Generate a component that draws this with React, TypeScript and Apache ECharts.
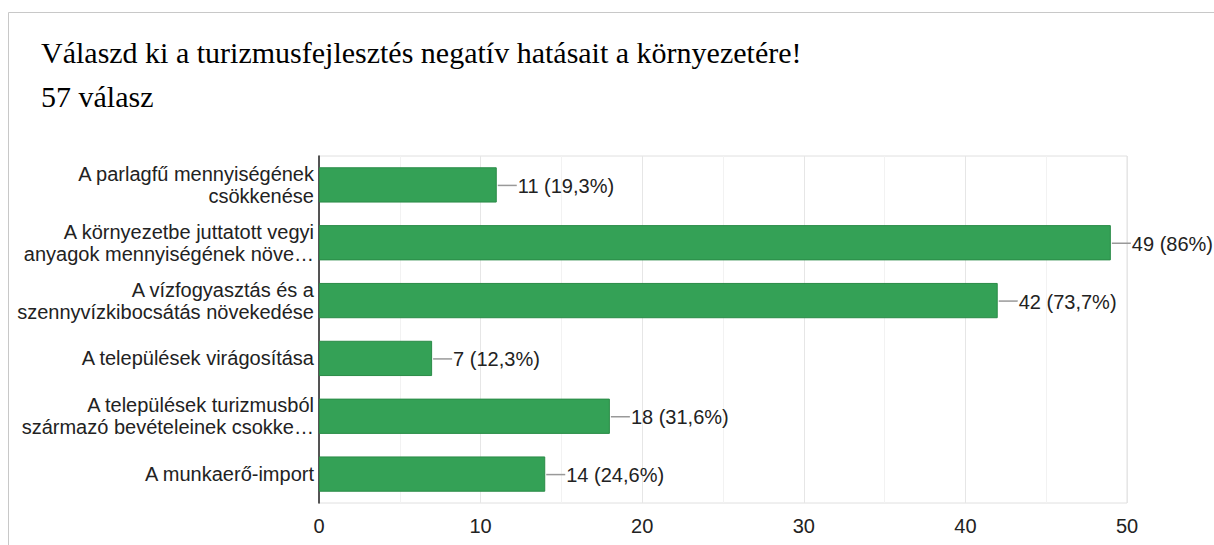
import React, { useEffect, useRef } from "react";
import * as echarts from "echarts";

const titleText = "Válaszd ki a turizmusfejlesztés negatív hatásait a környezetére!";
const subtitleText = "57 válasz";
const categories = [
  "A parlagfű mennyiségének\ncsökkenése",
  "A környezetbe juttatott vegyi\nanyagok mennyiségének növe…",
  "A vízfogyasztás és a\nszennyvízkibocsátás növekedése",
  "A települések virágosítása",
  "A települések turizmusból\nszármazó bevételeinek csokke…",
  "A munkaerő-import",
];
const counts = [11, 49, 42, 7, 18, 14];
const percents = ["19,3%", "86%", "73,7%", "12,3%", "31,6%", "24,6%"];
const xTicks = [0, 10, 20, 30, 40, 50];

export default function App() {
  const ref = useRef<HTMLDivElement>(null);
  useEffect(() => {
    if (!ref.current) return;
    const chart = echarts.init(ref.current, null, { renderer: "svg" });
    const labelData = counts.map((v, i) => [v, i, `${v} (${percents[i]})`]);
    chart.setOption({
      animation: false,
      backgroundColor: "#fff",
      title: {
        text: titleText + "\n" + subtitleText,
        left: 41,
        top: 30,
        padding: 0,
        textStyle: {
          fontFamily: "Liberation Serif",
          fontSize: 30,
          fontWeight: "normal",
          color: "#000",
          lineHeight: 44,
        },
      },
      graphic: [
        { type: "line", shape: { x1: 8.5, y1: 12.5, x2: 1214, y2: 12.5 }, style: { stroke: "#c8c8c8", lineWidth: 1 } },
        { type: "line", shape: { x1: 8.5, y1: 12.5, x2: 8.5, y2: 545 }, style: { stroke: "#c8c8c8", lineWidth: 1 } },
      ],
      grid: {
        left: 319,
        top: 156,
        right: 87,
        bottom: 42,
        show: true,
        borderColor: "#e0e0e0",
        borderWidth: 1,
      },
      xAxis: {
        type: "value",
        min: xTicks[0],
        max: xTicks[xTicks.length - 1],
        interval: 10,
        axisLine: { show: false },
        axisTick: { show: false },
        axisLabel: {
          fontFamily: "Liberation Sans",
          fontSize: 20,
          color: "#222",
          margin: 13,
        },
        splitLine: { show: true, lineStyle: { color: "#e6e6e6", width: 1 } },
        minorTick: { show: false, splitNumber: 2 },
        minorSplitLine: { show: true, lineStyle: { color: "#f2f2f2", width: 1 } },
      },
      yAxis: {
        type: "category",
        data: categories,
        inverse: true,
        axisLine: { show: true, lineStyle: { color: "#222", width: 1.5 } },
        axisTick: { show: false },
        axisLabel: {
          fontFamily: "Liberation Sans",
          fontSize: 20,
          color: "#222",
          margin: 5,
          lineHeight: 22,
          align: "right",
        },
        splitLine: { show: false },
      },
      series: [
        {
          type: "bar",
          data: counts,
          barCategoryGap: "39%",
          itemStyle: { color: "#34a156", borderColor: "#2a8b47", borderWidth: 1 },
          z: 2,
        },
        {
          type: "custom",
          data: labelData,
          encode: { x: 0, y: 1 },
          z: 3,
          renderItem: (params: any, api: any) => {
            const p = api.coord([api.value(0), api.value(1)]);
            const txt = labelData[params.dataIndex][2];
            return {
              type: "group",
              children: [
                {
                  type: "line",
                  shape: { x1: p[0] + 1, y1: p[1] + 0.5, x2: p[0] + 20, y2: p[1] + 0.5 },
                  style: { stroke: "#999", lineWidth: 1.5 },
                },
                {
                  type: "text",
                  x: p[0] + 21,
                  y: p[1] + 1,
                  style: {
                    text: txt,
                    fontFamily: "Liberation Sans",
                    fontSize: 20,
                    fill: "#222",
                    verticalAlign: "middle",
                    align: "left",
                  },
                },
              ],
            };
          },
        },
      ],
    });
    return () => chart.dispose();
  }, []);
  return (
    <div
      ref={ref}
      style={{ position: "fixed", left: 0, top: 0, width: 1214, height: 545 }}
    />
  );
}
